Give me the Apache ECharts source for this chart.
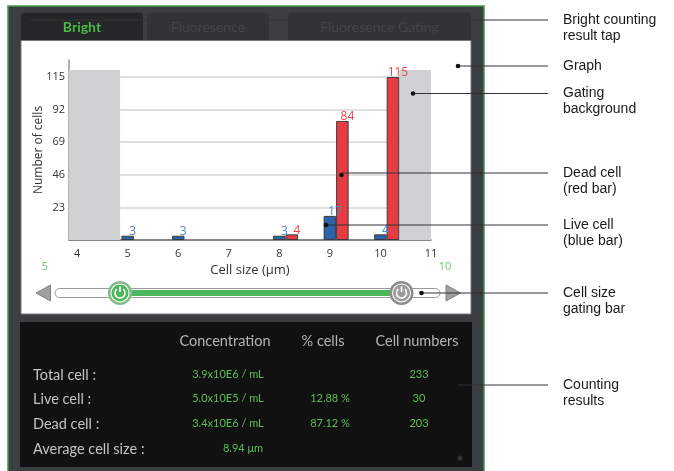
<!DOCTYPE html>
<html>
<head>
<meta charset="utf-8">
<script src="https://cdn.jsdelivr.net/npm/echarts@6/dist/echarts.min.js"></script>
<style>
  html, body { margin: 0; padding: 0; background: #fff; }
  #chart { width: 674px; height: 471px; }
</style>
</head>
<body>
<div id="chart"></div>
<script>
// histogram values (cell size in µm -> number of cells)
const liveSizes = [5, 6, 8, 9, 10]
const liveCells = [3, 3, 3, 17, 4]
const deadSizes = [8, 9, 10]
const deadCells = [4, 84, 115]

const xTicks = [4, 5, 6, 7, 8, 9, 10, 11]
const yTicks = [23, 46, 69, 92, 115]
const xMin = 3.84
const xMax = 11
const yMax = 127

// gated-out ranges (grey background)
const gateLow = 4.85
const gateHigh = 10.37
const gateTop = 120
const gateLabels = ['5', '10']

const tabs = ['Bright', 'Fluoresence', 'Fluoresence Gating']
const tableHeaders = ['Concentration', '% cells', 'Cell numbers']
const rowLabels = ['Total cell :', 'Live cell :', 'Dead cell :', 'Average cell size :']
const concentration = ['3.9x10E6 / mL', '5.0x10E5 / mL', '3.4x10E6 / mL', '8.94 μm']
const pctCells = ['', '12.88 %', '87.12 %', '']
const cellNumbers = ['233', '30', '203', '']

const callouts = [
  { text: 'Bright counting\nresult tap', from: [30, 20], ty: 20, dot: false },
  { text: 'Graph', from: [458, 66], ty: 66, dot: true },
  { text: 'Gating\nbackground', from: [413, 93.5], ty: 93.5, dot: true },
  { text: 'Dead cell\n(red bar)', from: [341.5, 175], ty: 173, dot: true },
  { text: 'Live cell\n(blue bar)', from: [326, 225], ty: 225, dot: true },
  { text: 'Cell size\ngating bar', from: [421.5, 293], ty: 293, dot: true },
  { text: 'Counting\nresults', from: [455, 385], ty: 385, dot: true },
]

const DEV_FONT = 'Lato'
const GREEN = '#4cb85c'

const chart = echarts.init(document.getElementById('chart'), null, { renderer: 'canvas' })

const g = []
// device frame
g.push({ type: 'rect', z: -10, shape: { x: 8, y: 6, width: 476, height: 470 },
  style: { fill: '#3c3f41', stroke: '#3e9a46', lineWidth: 1.5 } })
// tabs
const tabBoxes = [[21, 143], [147, 269], [288, 471]]
tabBoxes.forEach(([x0, x1], i) => {
  g.push({ type: 'rect', z: -9, shape: { x: x0, y: 12.5, width: x1 - x0, height: 30, r: [4, 4, 0, 0] },
    style: { fill: i === 0 ? '#252627' : '#313334' } })
  g.push({ type: 'text', z: -8, style: {
    text: tabs[i], x: (x0 + x1) / 2, y: 27.5, align: 'center', verticalAlign: 'middle',
    fontFamily: DEV_FONT, fontSize: 14, fontWeight: i === 0 ? 'bold' : 'normal',
    fill: i === 0 ? '#4cb848' : '#434648' } })
})
// graph panel
g.push({ type: 'rect', z: -8, shape: { x: 21, y: 40.5, width: 450, height: 273.5 },
  style: { fill: '#fff', stroke: '#777', lineWidth: 1 } })
// results panel
g.push({ type: 'rect', z: -8, shape: { x: 20, y: 322, width: 452, height: 145 },
  style: { fill: '#111111' } })
g.push({ type: 'circle', z: -7, shape: { cx: 460, cy: 458, r: 2.5 }, style: { fill: '#333' } })

// gating bar
g.push({ type: 'text', z: 5, style: { text: gateLabels[0], x: 45, y: 267, align: 'center', verticalAlign: 'middle',
  fontFamily: 'Open Sans', fontSize: 11, fill: '#6cc070' } })
g.push({ type: 'text', z: 5, style: { text: gateLabels[1], x: 445, y: 267, align: 'center', verticalAlign: 'middle',
  fontFamily: 'Open Sans', fontSize: 11, fill: '#6cc070' } })
g.push({ type: 'polygon', z: 5, shape: { points: [[36, 293], [50.5, 285], [50.5, 301]] },
  style: { fill: '#a0a0a0', stroke: '#808080', lineWidth: 1 } })
g.push({ type: 'polygon', z: 5, shape: { points: [[446, 285], [446, 301], [460.5, 293]] },
  style: { fill: '#a0a0a0', stroke: '#808080', lineWidth: 1 } })
g.push({ type: 'rect', z: 5, shape: { x: 55, y: 288.5, width: 385, height: 9, r: 4.5 },
  style: { fill: '#fff', stroke: '#9a9a9a', lineWidth: 1 } })
g.push({ type: 'rect', z: 6, shape: { x: 120, y: 290, width: 282, height: 6 }, style: { fill: GREEN } })
function knob(cx, ring, fill) {
  g.push({ type: 'circle', z: 7, shape: { cx, cy: 293, r: 12 }, style: { fill: ring } })
  g.push({ type: 'circle', z: 7, shape: { cx, cy: 293, r: 9.5 }, style: { fill: '#fff' } })
  g.push({ type: 'circle', z: 7, shape: { cx, cy: 293, r: 8.5 }, style: { fill } })
  g.push({ type: 'arc', z: 8, shape: { cx, cy: 293, r: 5, startAngle: -Math.PI / 2 + 0.7,
    endAngle: Math.PI * 1.5 - 0.7, clockwise: true }, style: { stroke: '#fff', lineWidth: 1.6, fill: null } })
  g.push({ type: 'line', z: 8, shape: { x1: cx, y1: 286.5, x2: cx, y2: 292 },
    style: { stroke: '#fff', lineWidth: 1.6 } })
}
knob(120, '#88b98c', GREEN)
knob(401.5, '#8c8c8c', '#9c9c9c')

// results table
const headX = [225, 323, 417]
tableHeaders.forEach((t, i) => g.push({ type: 'text', z: 5, style: {
  text: t, x: headX[i], y: 341, align: 'center', verticalAlign: 'middle',
  fontFamily: DEV_FONT, fontSize: 14.5, fill: '#b4b4b4' } }))
const rowY = [375, 399, 424, 449]
rowLabels.forEach((t, i) => {
  g.push({ type: 'text', z: 5, style: { text: t, x: 33, y: rowY[i], verticalAlign: 'middle',
    fontFamily: DEV_FONT, fontSize: 14.5, fill: '#c4c4c4' } })
  const vals = [[concentration[i], i === 3 ? 243 : 228], [pctCells[i], 330], [cellNumbers[i], 419]]
  vals.forEach(([v, x]) => v && g.push({ type: 'text', z: 5, style: { text: v, x, y: rowY[i] - 1,
    align: 'center', verticalAlign: 'middle', fontFamily: DEV_FONT, fontSize: 11, fill: '#5cbf55' } }))
})

// callouts
callouts.forEach((c) => {
  g.push({ type: 'line', z: 100, shape: { x1: c.from[0], y1: c.ty, x2: 548, y2: c.ty },
    style: { stroke: '#333', lineWidth: 1 } })
  if (c.dot) g.push({ type: 'circle', z: 100, shape: { cx: c.from[0], cy: c.from[1], r: 2.3 }, style: { fill: '#111' } })
  g.push({ type: 'text', z: 100, style: { text: c.text, x: 563, y: c.ty - 8, verticalAlign: 'top',
    fontFamily: 'Liberation Sans', fontSize: 14, lineHeight: 16, fill: '#1a1a1a' } })
})

const labelStyle = (color) => ({
  show: true, position: 'top', distance: -1, offset: [5, 1],
  color, fontSize: 12, fontFamily: 'Open Sans',
})

chart.setOption({
  animation: false,
  backgroundColor: '#fff',
  graphic: g,
  grid: { left: 69, right: 243, top: 60, bottom: 231 },
  xAxis: {
    type: 'value', min: xMin, max: xMax,
    name: 'Cell size (μm)', nameLocation: 'middle', nameGap: 24, nameMoveOverlap: false,
    nameTextStyle: { color: '#333', fontSize: 13, fontFamily: 'Open Sans' },
    axisLine: { lineStyle: { color: '#6a6a6a', width: 1.5 } },
    axisTick: { show: false, customValues: xTicks },
    axisLabel: { customValues: xTicks, color: '#333', fontSize: 11, margin: 8, fontFamily: 'Open Sans' },
    splitLine: { show: false },
  },
  yAxis: {
    type: 'value', min: 0, max: yMax, interval: 23,
    name: 'Number of cells', nameLocation: 'middle', nameGap: 24, nameMoveOverlap: false,
    nameTextStyle: { color: '#333', fontSize: 12, fontFamily: 'Open Sans' },
    axisLine: { show: true, lineStyle: { color: '#9a9a9a', width: 1.5 } },
    axisTick: { show: false, customValues: [0].concat(yTicks) },
    axisLabel: { customValues: yTicks, color: '#333', fontSize: 11, margin: 4, fontFamily: 'Open Sans' },
    splitLine: { lineStyle: { color: '#d6d6d6', width: 1.5 } },
  },
  series: [
    {
      // empty slot so the live bar sits centred on its size value
      name: 'slot', type: 'bar', barWidth: 12.5, barGap: '0%', data: [],
      markArea: {
        silent: true, itemStyle: { color: '#d0d1d3' },
        data: [
          [{ coord: [xMin, 0] }, { coord: [gateLow, gateTop] }],
          [{ coord: [gateHigh, 0] }, { coord: [xMax, gateTop] }],
        ],
      },
    },
    {
      name: 'Live', type: 'bar', barWidth: 12.5, barGap: '0%',
      itemStyle: { color: '#2b63ad', borderColor: '#3a3a3a', borderWidth: 1 },
      label: labelStyle('#4d84cf'),
      data: liveSizes.map((s, i) => [s, liveCells[i]]),
    },
    {
      name: 'Dead', type: 'bar', barWidth: 12.5, barGap: '0%',
      itemStyle: { color: '#e83c45', borderColor: '#3a3a3a', borderWidth: 1 },
      label: labelStyle('#e8454c'),
      data: deadSizes.map((s, i) => [s, deadCells[i]]),
    },
  ],
})
</script>
</body>
</html>
